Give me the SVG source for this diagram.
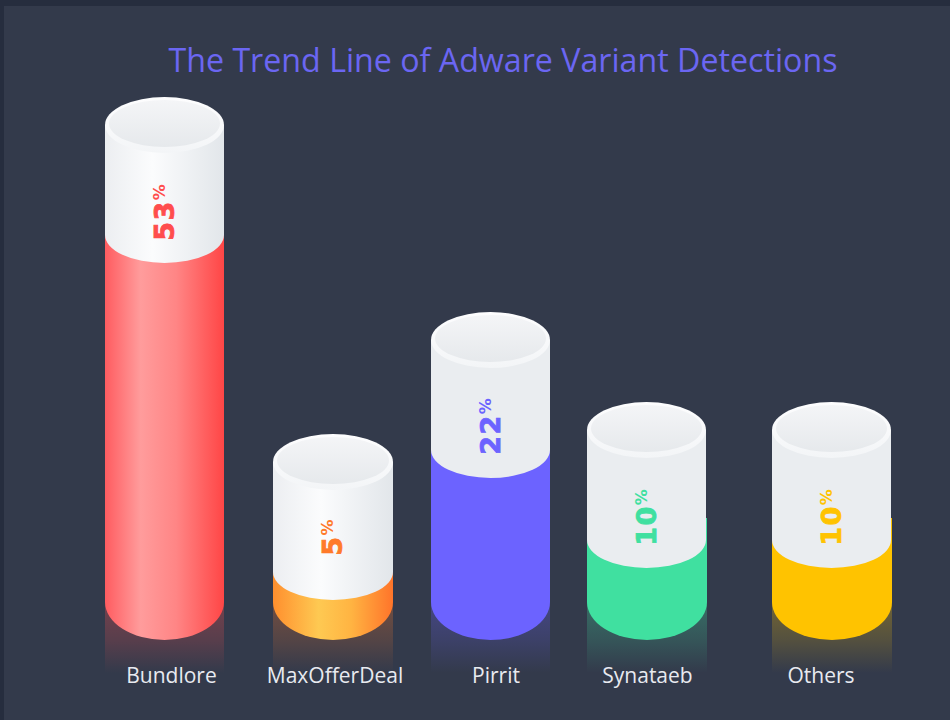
<svg xmlns="http://www.w3.org/2000/svg" width="950" height="720" viewBox="0 0 950 720">
<defs>
<style>
.title{font-family:"Open Sans","Liberation Sans",sans-serif;font-size:32.2px;fill:#6b66f2;}
.lbl{font-family:"Open Sans","Liberation Sans",sans-serif;font-size:21px;fill:#e8eaf0;text-anchor:middle;}
.pct{font-family:"DejaVu Sans","Liberation Sans",sans-serif;font-weight:bold;font-size:27px;text-anchor:middle;letter-spacing:1.5px;stroke-width:0.8px;}
.sup{font-size:16px;letter-spacing:0;stroke-width:0;}
.capflat{fill:#eaedf0;}
.capgrad{fill:url(#capG);}
.rim{fill:url(#rimG);}
.inner{fill:url(#innerG);}
</style>
<linearGradient id="capG" x1="0" y1="0" x2="1" y2="0">
<stop offset="0" stop-color="#eceef1"/><stop offset="0.4" stop-color="#fbfcfd"/><stop offset="1" stop-color="#e2e6ea"/>
</linearGradient>
<linearGradient id="rimG" x1="0" y1="0" x2="0" y2="1">
<stop offset="0" stop-color="#fdfdfe"/><stop offset="1" stop-color="#f3f5f7"/>
</linearGradient>
<linearGradient id="innerG" x1="0" y1="0" x2="0" y2="1">
<stop offset="0" stop-color="#f4f5f7"/><stop offset="1" stop-color="#e6e9ec"/>
</linearGradient>
<linearGradient id="redG" x1="0" y1="0" x2="1" y2="0">
<stop offset="0" stop-color="#ff5c60"/><stop offset="0.3" stop-color="#ff9c9c"/><stop offset="0.6" stop-color="#ff8585"/><stop offset="1" stop-color="#ff4646"/>
</linearGradient>
<linearGradient id="orgG" x1="0" y1="0" x2="1" y2="0">
<stop offset="0" stop-color="#ff8f2e"/><stop offset="0.38" stop-color="#fec952"/><stop offset="0.65" stop-color="#ffb442"/><stop offset="1" stop-color="#ff742a"/>
</linearGradient>
<linearGradient id="refRed" x1="0" y1="0" x2="0" y2="1">
<stop offset="0" stop-color="#ff5050" stop-opacity="0.45"/><stop offset="0.7" stop-color="#ff5050" stop-opacity="0.18"/><stop offset="1" stop-color="#ff5050" stop-opacity="0"/>
</linearGradient>
<linearGradient id="refOrg" x1="0" y1="0" x2="0" y2="1">
<stop offset="0" stop-color="#ff7a2a" stop-opacity="0.45"/><stop offset="0.7" stop-color="#ff7a2a" stop-opacity="0.16"/><stop offset="1" stop-color="#ff7a2a" stop-opacity="0"/>
</linearGradient>
<linearGradient id="refPur" x1="0" y1="0" x2="0" y2="1">
<stop offset="0" stop-color="#6c63ff" stop-opacity="0.45"/><stop offset="0.7" stop-color="#6c63ff" stop-opacity="0.16"/><stop offset="1" stop-color="#6c63ff" stop-opacity="0"/>
</linearGradient>
<linearGradient id="refGrn" x1="0" y1="0" x2="0" y2="1">
<stop offset="0" stop-color="#40e0a0" stop-opacity="0.45"/><stop offset="0.7" stop-color="#40e0a0" stop-opacity="0.16"/><stop offset="1" stop-color="#40e0a0" stop-opacity="0"/>
</linearGradient>
<linearGradient id="refYel" x1="0" y1="0" x2="0" y2="1">
<stop offset="0" stop-color="#ffc300" stop-opacity="0.45"/><stop offset="0.7" stop-color="#ffc300" stop-opacity="0.16"/><stop offset="1" stop-color="#ffc300" stop-opacity="0"/>
</linearGradient>
</defs>

<rect x="0" y="0" width="950" height="720" fill="#262d3e"/>
<rect x="4" y="6" width="946" height="714" fill="#333a4b"/>

<text class="title" x="503" y="72" text-anchor="middle">The Trend Line of Adware Variant Detections</text>

<g id="connectors"></g>

<g id="bundlore">
<rect x="105" y="566" width="119" height="107" fill="url(#refRed)"/>
<path d="M105,213 H224 V602 A59.5,38 0 0 1 105,602 Z" fill="url(#redG)"/>
<path d="M105,125 H224 V235 A59.5,28 0 0 1 105,235 Z" class="capgrad"/>
<ellipse cx="164.5" cy="125" rx="59.5" ry="28" class="rim"/>
<ellipse cx="164.5" cy="123.5" rx="55.5" ry="23.5" class="inner"/>
<text class="pct" fill="#ff4d4d" stroke="#ff4d4d" transform="translate(173.5,212.5) rotate(-90)">53<tspan class="sup" dy="-9">%</tspan></text>
<text class="lbl" x="171.5" y="683">Bundlore</text>
</g>

<g id="maxofferdeal">
<rect x="273" y="566" width="120" height="107" fill="url(#refOrg)"/>
<path d="M273,550 H393 V602 A60,38 0 0 1 273,602 Z" fill="url(#orgG)"/>
<path d="M273,462 H393 V572 A60,28 0 0 1 273,572 Z" class="capgrad"/>
<ellipse cx="333" cy="462" rx="60" ry="28" class="rim"/>
<ellipse cx="333" cy="460.5" rx="56" ry="23.5" class="inner"/>
<text class="pct" fill="#ff7a2a" stroke="#ff7a2a" transform="translate(342,537.5) rotate(-90)">5<tspan class="sup" dy="-9">%</tspan></text>
<text class="lbl" x="335" y="683">MaxOfferDeal</text>
</g>

<g id="pirrit">
<rect x="431" y="566" width="119" height="107" fill="url(#refPur)"/>
<path d="M431,428 H550 V602 A59.5,38 0 0 1 431,602 Z" fill="#6c63ff"/>
<path d="M431,340 H550 V450 A59.5,28 0 0 1 431,450 Z" class="capflat"/>
<ellipse cx="490.5" cy="340" rx="59.5" ry="28" class="rim"/>
<ellipse cx="490.5" cy="338.5" rx="55.5" ry="23.5" class="inner"/>
<text class="pct" fill="#6c63ff" stroke="#6c63ff" transform="translate(500,426.5) rotate(-90)">22<tspan class="sup" dy="-9">%</tspan></text>
<text class="lbl" x="496" y="683">Pirrit</text>
</g>

<g id="synataeb">
<rect x="587" y="566" width="120" height="107" fill="url(#refGrn)"/>
<path d="M587,518 H707 V602 A60,38 0 0 1 587,602 Z" fill="#40e0a0"/>
<path d="M587,430 H706 V540 A59.5,28 0 0 1 587,540 Z" class="capflat"/>
<ellipse cx="646.5" cy="430" rx="59.5" ry="28" class="rim"/>
<ellipse cx="646.5" cy="428.5" rx="55.5" ry="23.5" class="inner"/>
<text class="pct" fill="#40e0a0" stroke="#40e0a0" transform="translate(656,517.5) rotate(-90)">10<tspan class="sup" dy="-9">%</tspan></text>
<text class="lbl" x="647.5" y="683">Synataeb</text>
</g>

<g id="others">
<rect x="772" y="566" width="120" height="107" fill="url(#refYel)"/>
<path d="M772,518 H892 V602 A60,38 0 0 1 772,602 Z" fill="#ffc300"/>
<path d="M772,430 H891 V540 A59.5,28 0 0 1 772,540 Z" class="capflat"/>
<ellipse cx="831.5" cy="430" rx="59.5" ry="28" class="rim"/>
<ellipse cx="831.5" cy="428.5" rx="55.5" ry="23.5" class="inner"/>
<text class="pct" fill="#ffc300" stroke="#ffc300" transform="translate(841,517.5) rotate(-90)">10<tspan class="sup" dy="-9">%</tspan></text>
<text class="lbl" x="821" y="683">Others</text>
</g>
</svg>
